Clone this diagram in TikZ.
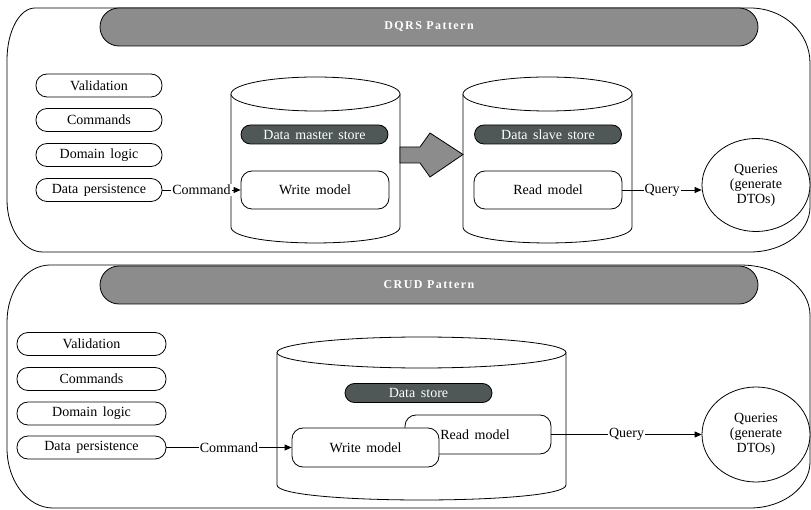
\documentclass[tikz,border=0pt]{standalone}
\usepackage{fontspec}
\setmainfont{Liberation Serif}
\newfontfamily\bodyfont[WordSpace=1.6]{Liberation Serif}
\newfontfamily\headfont[LetterSpace=12]{Liberation Serif}
\usetikzlibrary{arrows.meta,shapes.geometric}
\definecolor{hdrgray}{HTML}{8C8C8C}
\definecolor{darkpill}{HTML}{505757}
\begin{document}
\begin{tikzpicture}[x=1pt,y=-1pt, line width=0.8pt,
 txt/.style={font=\bodyfont\fontsize{14}{15}\selectfont},
 listbox/.style={txt, draw, fill=white, rounded corners=11pt, minimum height=23pt, inner sep=0pt},
 hdr/.style={draw, fill=hdrgray, rounded corners=19pt, minimum height=38pt, minimum width=658pt, inner sep=0pt, text=white, font=\headfont\bfseries\fontsize{12}{14}\selectfont},
 store/.style={txt, draw, fill=darkpill, text=white, rounded corners=9.5pt, minimum width=147pt, minimum height=19pt, inner sep=0pt},
 model/.style={txt, draw, fill=white, rounded corners=11pt, minimum width=148pt, minimum height=38pt, inner sep=0pt},
 qry/.style={txt, draw, fill=white, ellipse, minimum width=108pt, minimum height=93pt, inner sep=0pt, align=center},
 conn/.style={-{Triangle[length=7pt,width=6pt]}},
 lbl/.style={txt, fill=white, inner sep=1pt},
 bigarrow/.style={draw, fill=hdrgray, line join=miter},
 cylbody/.style={draw, fill=white}
]
\useasboundingbox (0,0) rectangle (811,510);

% ---------- panels ----------
\draw (7,60) .. controls (7,31.3) and (19.5,8) .. (35,8) -- (750,8)
  .. controls (783.7,8) and (810,32.6) .. (810,63) -- (810,207)
  .. controls (810,231.8) and (783.7,252) .. (750,252) -- (43,252)
  .. controls (23.1,252) and (7,228.7) .. (7,200) -- cycle;
\draw (7,322) .. controls (7,290.5) and (26.3,265) .. (50,265) -- (740,265)
  .. controls (778.6,265) and (810,287.4) .. (810,315) -- (810,462)
  .. controls (810,487.4) and (783.1,508) .. (750,508) -- (53,508)
  .. controls (27.6,508) and (7,481.1) .. (7,448) -- cycle;

% ---------- headers ----------
\node[hdr] (h1) at (429,27) {DQRS Pattern};
\node[hdr] (h2) at (429,285) {CRUD Pattern};

% ---------- top cylinders ----------
\draw[cylbody] (231,94) -- (231,227) .. controls (231,248.3) and (400,248.3) .. (400,227) -- (400,94);
\draw[cylbody] (315.5,94) ellipse [x radius=84.5, y radius=17];
\draw[cylbody] (463,94) -- (463,227) .. controls (463,248.3) and (632,248.3) .. (632,227) -- (632,94);
\draw[cylbody] (547.5,94) ellipse [x radius=84.5, y radius=17];

\draw[bigarrow] (400,147) -- (420,147) -- (430,133) -- (463,154.5) -- (430,177) -- (420,163) -- (400,163) -- cycle;

% ---------- top list ----------
\node[listbox, minimum width=126pt] (v1) at (99,85.5) {Validation};
\node[listbox, minimum width=126pt] (c1) at (99,120) {Commands};
\node[listbox, minimum width=126pt] (d1) at (99,155) {Domain logic};
\node[listbox, minimum width=126pt] (p1) at (99,190) {Data persistence};

\node[store] (ms) at (314.5,134.5) {Data master store};
\node[store] (ss) at (548,134.5) {Data slave store};
\node[model] (w1) at (315,190) {Write model};
\node[model] (r1) at (548,190) {Read model};
\node[qry] (q1) at (756,185) {Queries\\(generate\\DTOs)};

\draw[conn] (p1.east) -- node[lbl] {Command} (w1.west);
\draw[conn] (r1.east) -- node[lbl] {Query} (r1.east -| q1.west);

% ---------- bottom cylinder ----------
\draw[cylbody] (277,352.5) -- (277,485) .. controls (277,505) and (566,505) .. (566,485) -- (566,352.5);
\draw[cylbody] (421.5,352.5) ellipse [x radius=144.5, y radius=15.5];

% ---------- bottom list ----------
\node[listbox, minimum width=149pt] (v2) at (91.5,344) {Validation};
\node[listbox, minimum width=149pt] (c2) at (91.5,379) {Commands};
\node[listbox, minimum width=149pt] (d2) at (91.5,413.5) {Domain logic};
\node[listbox, minimum width=149pt] (p2) at (91.5,447.5) {Data persistence};

\node[store] (ds) at (418.5,393) {Data store};
\node[model, minimum width=146pt, minimum height=39pt] (r2) at (478,434.5) {\hspace*{-6pt}Read model};
\node[model, minimum width=147pt, minimum height=39pt] (w2) at (365.5,447.5) {Write model};
\node[qry, minimum height=95pt] (q2) at (756,434.5) {Queries\\(generate\\DTOs)};

\draw[conn] (p2.east) -- node[lbl] {Command} (w2.west);
\draw[conn] (r2.east) -- node[lbl] {Query} (q2.west);
\end{tikzpicture}
\end{document}
